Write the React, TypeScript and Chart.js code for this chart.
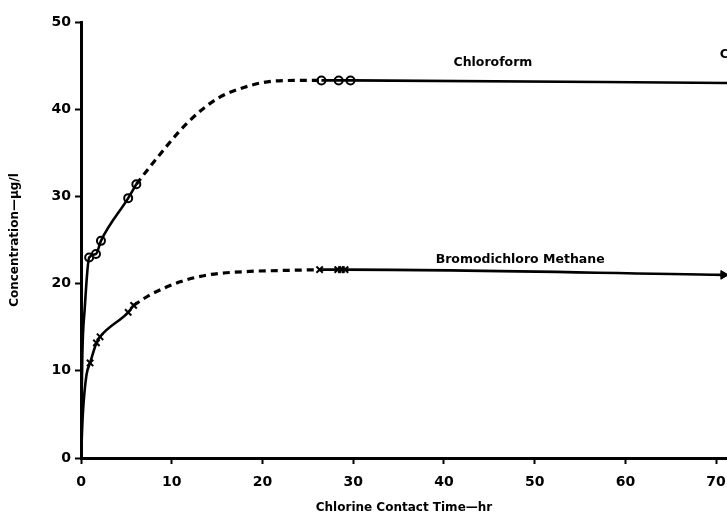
import React, { useEffect, useRef } from "react";
import { Chart, registerables } from "chart.js";

Chart.register(...registerables);

// ---- Data ----
const xTicks = [0, 10, 20, 30, 40, 50, 60, 70];
const yTicks = [0, 10, 20, 30, 40, 50];

// Chloroform
const chloroEarlyX = [0, 0.15, 0.4, 0.9, 1.65, 2.2, 5.2, 6.1];
const chloroEarlyY = [2, 12, 17, 23.0, 23.4, 24.9, 29.8, 31.4];
const chloroDashX = [6.1, 7.6, 11.7, 15, 18.6, 21, 24, 26.5];
const chloroDashY = [31.4, 33.4, 38.4, 41.2, 42.7, 43.2, 43.3, 43.3];
const chloroLateX = [26.5, 29.7, 71.2];
const chloroLateY = [43.3, 43.3, 43.0];
const chloroMarkX = [0.9, 1.65, 2.2, 5.2, 6.1, 26.5, 28.4, 29.7];
const chloroMarkY = [23.0, 23.4, 24.9, 29.8, 31.4, 43.3, 43.3, 43.3];

// Bromodichloro Methane
const bromoEarlyX = [0, 0.2, 0.6, 1.0, 1.7, 2.1, 5.2, 5.8];
const bromoEarlyY = [0, 5, 9.5, 10.9, 13.2, 13.9, 16.7, 17.5];
const bromoDashX = [5.8, 7.6, 10.9, 14, 18.6, 22, 26.3];
const bromoDashY = [17.5, 18.7, 20.2, 21.0, 21.4, 21.5, 21.6];
const bromoLateX = [26.3, 29.1, 70.8];
const bromoLateY = [21.6, 21.6, 21.0];
const bromoMarkX = [1.0, 1.7, 2.1, 5.2, 5.8, 26.3, 28.3, 28.7, 29.1];
const bromoMarkY = [10.9, 13.2, 13.9, 16.7, 17.5, 21.6, 21.6, 21.6, 21.6];
const bromoEndX = [70.8];
const bromoEndY = [21.0];

// Curve labels
const labelTexts = ["Chloroform", "Bromodichloro Methane", "Chloroform"];
const labelX = [45.4, 48.4, 70.4];
const labelY = [45.3, 22.7, 46.2];
const labelAlign = ["center", "center", "left"];

const xTitle = "Chlorine Contact Time\u2014hr";
const yTitle = "Concentration\u2014\u03bcg/l";

const pts = (xs: number[], ys: number[]) => xs.map((x, i) => ({ x, y: ys[i] }));

const FONT = "'DejaVu Sans', 'Liberation Sans', Arial, sans-serif";

const labelPlugin = {
  id: "curveLabels",
  afterDatasetsDraw(chart: any) {
    const { ctx, scales } = chart;
    ctx.save();
    ctx.fillStyle = "#000";
    ctx.font = `bold 12.5px ${FONT}`;
    ctx.textBaseline = "middle";
    labelTexts.forEach((t, i) => {
      ctx.textAlign = labelAlign[i] as CanvasTextAlign;
      ctx.fillText(t, scales.x.getPixelForValue(labelX[i]), scales.y.getPixelForValue(labelY[i]));
    });
    ctx.restore();
  },
};

const noPad = (s: any) => ({ left: 0, top: 0, right: 0, bottom: 0 });

export default function App() {
  const ref = useRef<HTMLCanvasElement>(null);

  useEffect(() => {
    if (!ref.current) return;
    const line = (data: any, dashed: boolean) => ({
      data,
      borderColor: "#000",
      borderWidth: dashed ? 3.2 : 2.6,
      borderDash: dashed ? [7, 5] : [],
      pointRadius: 0,
      cubicInterpolationMode: "monotone",
      fill: false,
    });
    const marks = (data: any, style: string, radius: number, bg: string, bw: number, rot = 0) => ({
      data,
      showLine: false,
      pointStyle: style,
      pointRadius: radius,
      pointBackgroundColor: bg,
      pointBorderColor: "#000",
      pointBorderWidth: bw,
      pointRotation: rot,
    });

    const chart = new Chart(ref.current, {
      type: "line",
      data: {
        datasets: [
          line(pts(chloroEarlyX, chloroEarlyY), false),
          line(pts(chloroDashX, chloroDashY), true),
          line(pts(chloroLateX, chloroLateY), false),
          line(pts(bromoEarlyX, bromoEarlyY), false),
          line(pts(bromoDashX, bromoDashY), true),
          line(pts(bromoLateX, bromoLateY), false),
          marks(pts(chloroMarkX, chloroMarkY), "circle", 4, "#fff", 2),
          marks(pts(bromoMarkX, bromoMarkY), "crossRot", 4.5, "#000", 2),
          marks(pts(bromoEndX, bromoEndY), "triangle", 5, "#000", 1, 90),
        ] as any,
      },
      options: {
        animation: false,
        responsive: false,
        events: [],
        layout: { autoPadding: false, padding: { top: 22, left: 0, right: 0, bottom: 0 } },
        plugins: { legend: { display: false }, tooltip: { enabled: false } },
        scales: {
          x: {
            type: "linear",
            min: 0,
            max: 71.2,
            afterFit: (s: any) => {
              s.height = 57;
              s.paddingLeft = 0;
              s.paddingRight = 0;
              s.getPadding = () => noPad(s);
            },
            afterBuildTicks: (s: any) => { s.ticks = xTicks.map((v) => ({ value: v })); },
            border: { display: true, color: "#000", width: 3 },
            grid: { display: true, drawOnChartArea: false, drawTicks: true, tickLength: 6, tickWidth: 2, tickColor: "#000" },
            ticks: { color: "#000", padding: 10, maxRotation: 0, font: { family: FONT, size: 14, weight: "bold" } },
            title: { display: true, text: xTitle, color: "#000", padding: { top: 0, bottom: 0 }, font: { family: FONT, size: 12, weight: "bold" } },
          },
          y: {
            type: "linear",
            min: 0,
            max: 50,
            afterFit: (s: any) => {
              s.width = 81;
              s.paddingTop = 0;
              s.paddingBottom = 0;
              s.getPadding = () => noPad(s);
            },
            afterBuildTicks: (s: any) => { s.ticks = yTicks.map((v) => ({ value: v })); },
            border: { display: true, color: "#000", width: 3 },
            grid: { display: true, drawOnChartArea: false, drawTicks: true, tickLength: 6, tickWidth: 2, tickColor: "#000" },
            ticks: { color: "#000", padding: 4, font: { family: FONT, size: 14, weight: "bold" } },
            title: { display: true, text: yTitle, color: "#000", padding: { top: 8, bottom: 0 }, font: { family: FONT, size: 12, weight: "bold" } },
          },
        },
      } as any,
      plugins: [labelPlugin],
    });
    return () => chart.destroy();
  }, []);

  return (
    <div style={{ position: "fixed", left: 0, top: 0, width: 727, height: 515, background: "#fff" }}>
      <canvas ref={ref} width={727} height={515} style={{ width: 727, height: 515, display: "block" }} />
    </div>
  );
}
